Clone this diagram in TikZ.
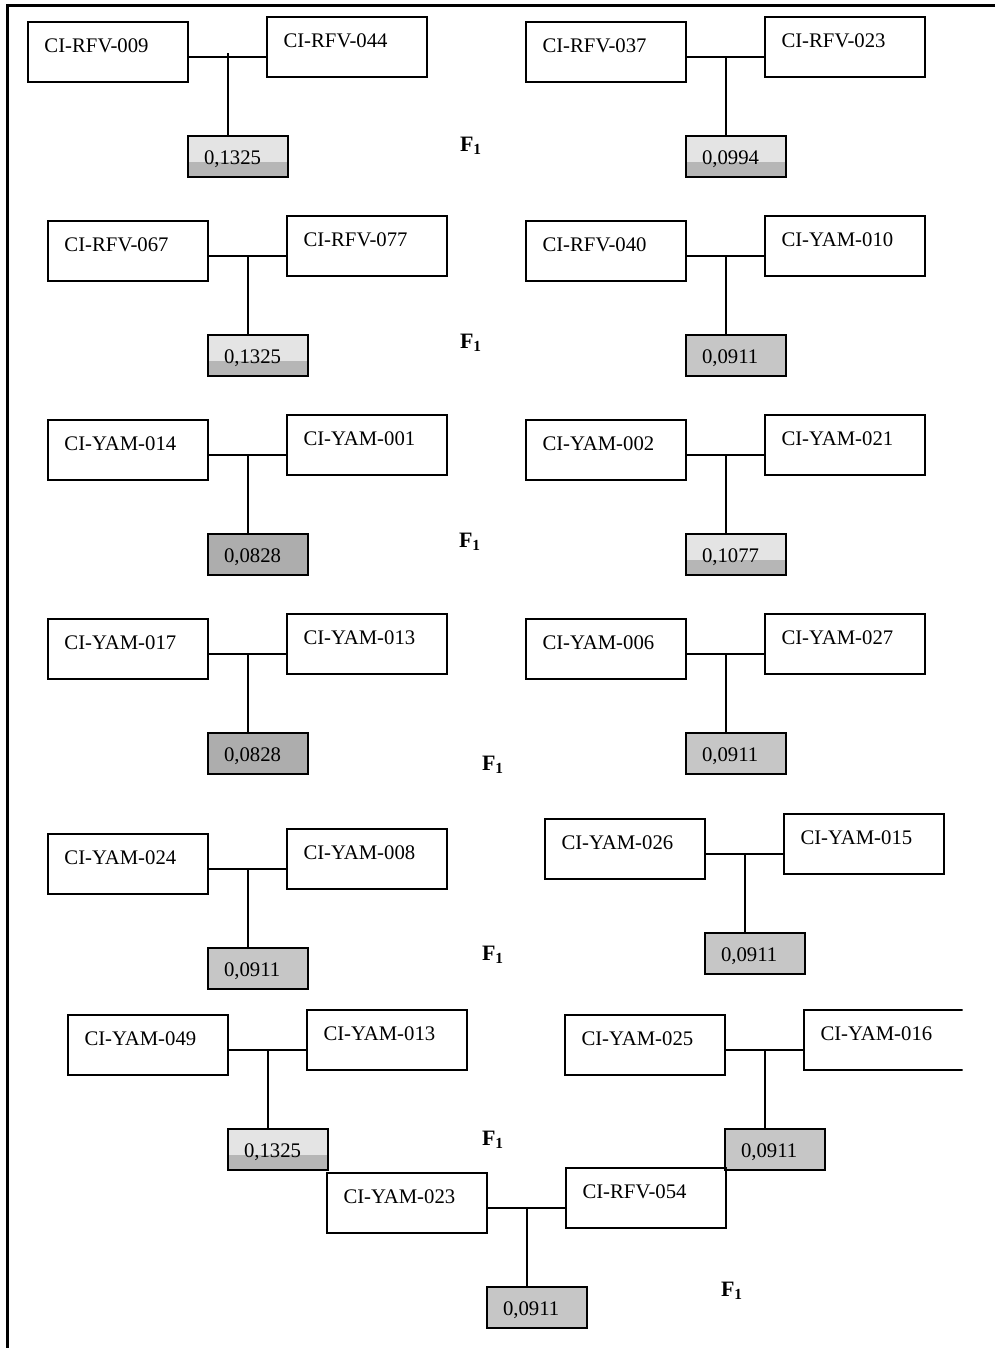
\documentclass[tikz,border=0pt]{standalone}
\usepackage{fontspec}
\setmainfont{Liberation Serif}
\usepackage{tikz}
\definecolor{valdark}{HTML}{ADADAD}
\definecolor{valmid}{HTML}{C6C6C6}
\definecolor{grainlt}{HTML}{E4E4E4}
\definecolor{grainbt}{HTML}{B6B6B6}

\begin{document}
\begin{tikzpicture}[x=0.2mm,y=-0.2mm,
			namebox/.style={draw,line width=0.85pt,minimum width=32mm,minimum height=12mm,text width=25.4mm,inner xsep=3.3mm,align=left,text height=2.6mm,text depth=2.6mm,font=\fontsize{11.8}{13}\selectfont},
			valbox/.style={draw,line width=0.85pt,minimum width=20mm,minimum height=8.2mm,text width=13.6mm,inner xsep=3.2mm,align=left,text height=3.3mm,text depth=0pt,font=\fontsize{11.8}{13}\selectfont},
			vdark/.style={valbox,fill=valdark},
			vmid/.style={valbox,fill=valmid},
			vgrain/.style={valbox,fill=grainlt,path picture={\fill[grainbt] (path picture bounding box.south west) rectangle ([yshift=3mm]path picture bounding box.south east);}},
			link/.style={line width=0.8pt},
			flabel/.style={font=\fontsize{12.5}{14}\selectfont\bfseries}
			]
			\useasboundingbox (0,0) rectangle (995,1348);
			\draw[line width=1.4pt] (995,5.5) -- (7.5,5.5) -- (7.5,1348);
			% row 1
			\node[namebox] (l1a) at (108,52) {CI-RFV-009};
			\node[namebox] (r1a) at (347,47) {CI-RFV-044};
			\node[vgrain] (v1a) at (238,156.5) {0,1325};
			\coordinate (j1a) at (228,57);
			\draw[link] (l1a.east |- j1a) -- (r1a.west |- j1a);
			\draw[link] (j1a) ++(0,-4) -- (j1a |- v1a.north);
			\node[namebox] (l1b) at (606,52) {CI-RFV-037};
			\node[namebox] (r1b) at (845,47) {CI-RFV-023};
			\node[vgrain] (v1b) at (736,156.5) {0,0994};
			\coordinate (j1b) at (726,57);
			\draw[link] (l1b.east |- j1b) -- (r1b.west |- j1b);
			\draw[link] (j1b) -- (j1b |- v1b.north);
			\node[flabel] (f1) at (471,146) {F\textsubscript{1}};
			% row 2
			\node[namebox] (l2a) at (128,251) {CI-RFV-067};
			\node[namebox] (r2a) at (367,246) {CI-RFV-077};
			\node[vgrain] (v2a) at (258,355.5) {0,1325};
			\coordinate (j2a) at (248,256);
			\draw[link] (l2a.east |- j2a) -- (r2a.west |- j2a);
			\draw[link] (j2a) -- (j2a |- v2a.north);
			\node[namebox] (l2b) at (606,251) {CI-RFV-040};
			\node[namebox] (r2b) at (845,246) {CI-YAM-010};
			\node[vmid] (v2b) at (736,355.5) {0,0911};
			\coordinate (j2b) at (726,256);
			\draw[link] (l2b.east |- j2b) -- (r2b.west |- j2b);
			\draw[link] (j2b) -- (j2b |- v2b.north);
			\node[flabel] (f2) at (471,343) {F\textsubscript{1}};
			% row 3
			\node[namebox] (l3a) at (128,450) {CI-YAM-014};
			\node[namebox] (r3a) at (367,445) {CI-YAM-001};
			\node[vdark] (v3a) at (258,554.5) {0,0828};
			\coordinate (j3a) at (248,455);
			\draw[link] (l3a.east |- j3a) -- (r3a.west |- j3a);
			\draw[link] (j3a) -- (j3a |- v3a.north);
			\node[namebox] (l3b) at (606,450) {CI-YAM-002};
			\node[namebox] (r3b) at (845,445) {CI-YAM-021};
			\node[vgrain] (v3b) at (736,554.5) {0,1077};
			\coordinate (j3b) at (726,455);
			\draw[link] (l3b.east |- j3b) -- (r3b.west |- j3b);
			\draw[link] (j3b) -- (j3b |- v3b.north);
			\node[flabel] (f3) at (470,542) {F\textsubscript{1}};
			% row 4
			\node[namebox] (l4a) at (128,649) {CI-YAM-017};
			\node[namebox] (r4a) at (367,644) {CI-YAM-013};
			\node[vdark] (v4a) at (258,753.5) {0,0828};
			\coordinate (j4a) at (248,654);
			\draw[link] (l4a.east |- j4a) -- (r4a.west |- j4a);
			\draw[link] (j4a) -- (j4a |- v4a.north);
			\node[namebox] (l4b) at (606,649) {CI-YAM-006};
			\node[namebox] (r4b) at (845,644) {CI-YAM-027};
			\node[vmid] (v4b) at (736,753.5) {0,0911};
			\coordinate (j4b) at (726,654);
			\draw[link] (l4b.east |- j4b) -- (r4b.west |- j4b);
			\draw[link] (j4b) -- (j4b |- v4b.north);
			\node[flabel] (f4) at (493,765) {F\textsubscript{1}};
			% row 5
			\node[namebox] (l5a) at (128,864) {CI-YAM-024};
			\node[namebox] (r5a) at (367,859) {CI-YAM-008};
			\node[vmid] (v5a) at (258,968.5) {0,0911};
			\coordinate (j5a) at (248,869);
			\draw[link] (l5a.east |- j5a) -- (r5a.west |- j5a);
			\draw[link] (j5a) -- (j5a |- v5a.north);
			\node[namebox] (l5b) at (625,849) {CI-YAM-026};
			\node[namebox] (r5b) at (864,844) {CI-YAM-015};
			\node[vmid] (v5b) at (755,953.5) {0,0911};
			\coordinate (j5b) at (745,854);
			\draw[link] (l5b.east |- j5b) -- (r5b.west |- j5b);
			\draw[link] (j5b) -- (j5b |- v5b.north);
			\node[flabel] (f5) at (493,955) {F\textsubscript{1}};
			% row 6
			\node[namebox] (l6a) at (148,1045) {CI-YAM-049};
			\node[namebox] (r6a) at (387,1040) {CI-YAM-013};
			\node[vgrain] (v6a) at (278,1149.5) {0,1325};
			\coordinate (j6a) at (268,1050);
			\draw[link] (l6a.east |- j6a) -- (r6a.west |- j6a);
			\draw[link] (j6a) -- (j6a |- v6a.north);
			\node[namebox] (l6b) at (645,1045) {CI-YAM-025};
			\begin{scope}
				\clip (0,0) rectangle (962.5,1348);
				\node[namebox] (r6b) at (884,1040) {CI-YAM-016};
			\end{scope}
			\node[vmid] (v6b) at (775,1149.5) {0,0911};
			\coordinate (j6b) at (765,1050);
			\draw[link] (l6b.east |- j6b) -- (r6b.west |- j6b);
			\draw[link] (j6b) -- (j6b |- v6b.north);
			\node[flabel] (f6) at (493,1140) {F\textsubscript{1}};
			% row 7
			\node[namebox] (l7) at (407,1203) {CI-YAM-023};
			\node[namebox] (r7) at (646,1198) {CI-RFV-054};
			\node[vmid] (v7) at (537,1307.5) {0,0911};
			\coordinate (j7) at (527,1208);
			\draw[link] (l7.east |- j7) -- (r7.west |- j7);
			\draw[link] (j7) -- (j7 |- v7.north);
			\node[flabel] (f7) at (732,1291) {F\textsubscript{1}};
		\end{tikzpicture}
\end{document}
